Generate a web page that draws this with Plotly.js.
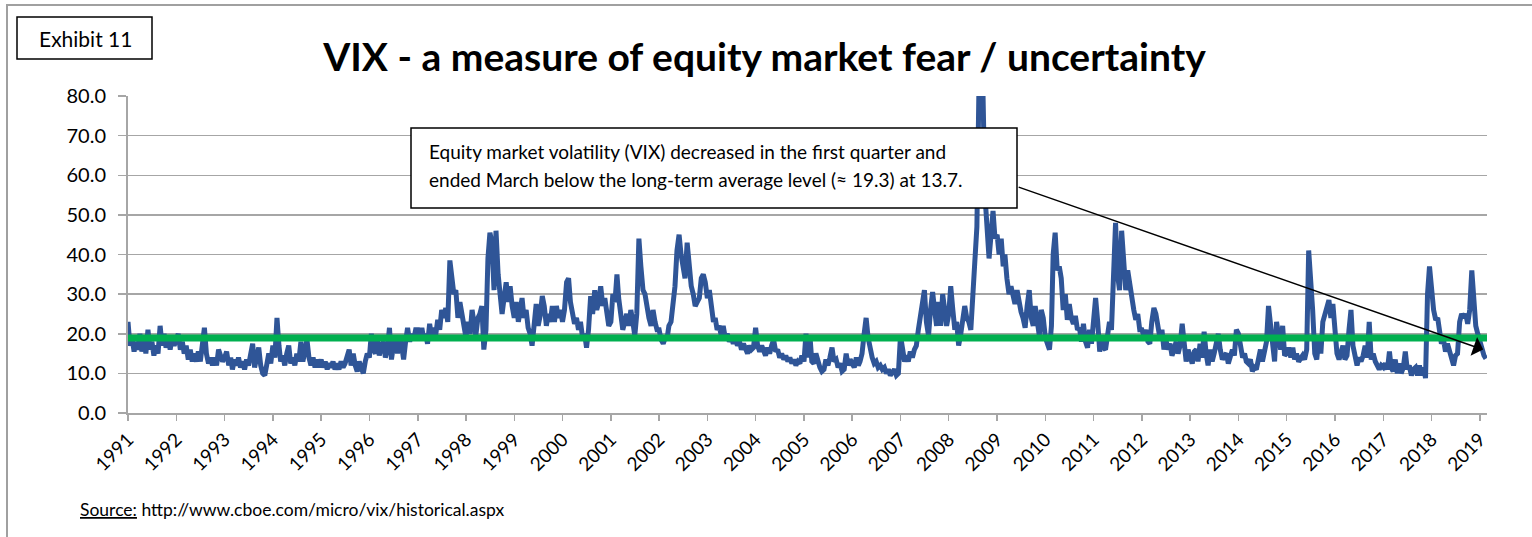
<!DOCTYPE html>
<html>
<head>
<meta charset="utf-8">
<script src="https://cdn.plot.ly/plotly-3.0.1.min.js"></script>
<style>
html,body{margin:0;padding:0;background:#fff;overflow:hidden;}
#chart{width:1532px;height:537px;}
</style>
</head>
<body>
<div id="chart"></div>
<script>
// ---- DATA (VIX, two readings per month) ----
const sampleDays = ['01-01','01-16','02-01','02-16','03-01','03-16','04-01','04-16','05-01','05-16','06-01','06-16',
                    '07-01','07-16','08-01','08-16','09-01','09-16','10-01','10-16','11-01','11-16','12-01','12-16'];
const years = [1991,1992,1993,1994,1995,1996,1997,1998,1999,2000,2001,2002,2003,2004,2005,2006,2007,2008,2009,2010,2011,2012,2013,2014,2015,2016,2017,2018,2019];
const yearLabels = ['1991','1992','1993','1994','1995','1996','1997','1998','1999','2000','2001','2002','2003','2004','2005','2006','2007','2008','2009','2010','2011','2012','2013','2014','2015','2016','2017','2018','2019'];

const v1991 = [23,17,19,15.5,18,16,20,15.5,19,15,21,16,18,14.5,17,15,22,17,20,16.5,19,16,19,17];
const v1992 = [18.5,20,16,18,15,17,13.5,16,13,15,13,15.5,13,17,21.5,15,12.5,14,12,14,12,16,14.5,13];
const v1993 = [14,15.5,12,14,11,13.5,12,14,11.5,13,11,13.5,12,15,17.5,11.5,14,16.5,12,10,9.5,12,15,12.5];
const v1994 = [17,14,24,17,13,14.5,12,15,17,12.5,14,12,15,13,18,13,16,18.5,14,12,14,11.5,13.5,11.5];
const v1995 = [13.5,11.5,13,11,12.5,11.5,13,11,12.5,11,13,11.5,12.5,14,16,12,15,12,10.5,13,11,10,13,15];
const v1996 = [14,20,16,15,19,14.5,17,18,14,16,21.5,13.5,17,19.5,15,19,17,13.5,18,21.5,18,20,18.5,21];
const v1997 = [21,19,21.5,18.5,20,17.5,22.5,19,21.5,19.5,23.5,21,26,24,26.5,23,38.5,35,30,31,24,28,25,21];
const v1998 = [19,23,20,26,22,19.5,24,25,27,16,21,39,45.5,43,31,46,35,28,25,29,33,28,32,27];
const v1999 = [24,28,23,26,29,24,26,21.5,20,17,23,27.5,22,24.5,29.5,27,22,25,23,27,23,27,24,26];
const v2000 = [23,26,33,34,28,25,22.5,24,21,23,19,20,16.5,21,29.5,25,31,26,28,32,27,29,24,22];
const v2001 = [23,30,28,35,29,24,21,23,25,22,26,23,19.5,25,44,37,31,30,26,24,22,26,23,21];
const v2002 = [21,18.5,17.5,19,18.5,22,23,27,32,41,45,40,37.5,34,43,37,32,30,27,28,29,34,35,33];
const v2003 = [29,31,27,23,24,21,22,19.5,22,19,20,18,19,17.5,19,17,18,16,17.5,16,15,17,16,16.5];
const v2004 = [21.5,17,15.5,17,16,14.5,16.5,15,17,18.5,15.5,16,14,15,13.5,14.5,13,14,12.5,13.5,12,13,12.5,14.5];
const v2005 = [13,20,14,19,13,12.5,15,13,11.5,10.5,11,13.5,12,14,16.5,13,13.5,11.5,12.5,10.5,11,15,12,13.5];
const v2006 = [12.5,11.5,14,12,13,15,20,24,19,15.5,14,12.5,13,11.5,12,11,11.5,10,11,9.5,10.5,11,9.5,10];
const v2007 = [19.5,15,13,14.5,13,15.5,14,16,17,21,24,28,31,23,19.5,26,30.5,26,22,28,22,30,26,22];
const v2008 = [25,32,26,21,23,17,20,23.5,27,24,23,21,28,38,47,80.9,74,80.9,55,48,39,45,51,44];
const v2009 = [45,40,44,37,40,34,30,32,29,27.5,31,28,25.5,24,21.5,27,31,24,22,27,23,19.5,26,24];
const v2010 = [19,17.5,16,22,40,45.5,36,37,34,26,30,23.5,27.5,24,22.5,24.5,21,21.5,18,22.5,18,16.5,21,17.5];
const v2011 = [25,29,23,15.5,19,16.5,16,21,23,21,40,48,35,31,46,40,31,36,32,30,26,23.5,25,21];
const v2012 = [21,19.5,21,18,17.5,23,26.5,25,21.5,19,21,16,18.5,16,17.5,14.5,16,18,15,17,22.5,17,13,16];
const v2013 = [14,12.5,15.5,16,13,17.5,14,20.5,15,12,16,13,15,18,20,16,13.5,14.5,15,12.5,14,16,14.5,21];
const v2014 = [20,16.5,14,15,13,12.5,13.5,10.5,11.5,11,14,16,13,15,18,27,22,15,13,23,20,16,22,14.5];
const v2015 = [15,16.5,14,16.5,13.5,15,13,14,14.5,13.5,16,41,35,26,15,13.5,19,15,23,25,27,28.5,24,27.5];
const v2016 = [21,15,13.5,15,17,13.5,14.5,21,26,17,14,12,14,13,14.5,17,14,23,13.5,15,13,12,11,12];
const v2017 = [11.5,12.5,11,15.5,11.5,10.5,13.5,10,12.5,10,11.5,15.5,11,12,9.5,11,11.5,9.5,12,9.5,11.5,8.8,30,37];
const v2018 = [30,26,23.5,24,21,17.5,18.5,15.5,17.5,16,14,12,14.5,15,23,25,24,25,22.5,26,36,30,22,20];
const v2019 = [18,15.5,14.5,13.7];

const longTermAvg = 18.9;
const avgSpan = ['1991-01-01','2019-02-24'];

const titleText = 'VIX - a measure of equity market fear / uncertainty';
const noteLine1 = 'Equity market volatility (VIX) decreased in the first quarter and';
const noteLine2 = 'ended March below the long-term average level (\u2248 19.3) at 13.7.';
const sourceText = '<u>Source:</u> http://www.cboe.com/micro/vix/historical.aspx';
const exhibitText = 'Exhibit 11';

// ---- BUILD ----
const yearSeries = [v1991,v1992,v1993,v1994,v1995,v1996,v1997,v1998,v1999,v2000,v2001,v2002,v2003,v2004,v2005,v2006,v2007,v2008,v2009,v2010,v2011,v2012,v2013,v2014,v2015,v2016,v2017,v2018,v2019];
const xs = [], ys = [];
years.forEach((yr, i) => {
  yearSeries[i].forEach((v, k) => { xs.push(yr + '-' + sampleDays[k]); ys.push(v); });
});

const W = 1532, H = 537;
const M = {l:128, r:45, t:96, b:124};
const PW = W - M.l - M.r, PH = H - M.t - M.b;
const px = x => (x - M.l) / PW;
const py = y => (H - M.b - y) / PH;

const FONT = 'Lato, "Open Sans", sans-serif';
const GRID = '#a6a6a6';

const traces = [
  {x: xs, y: ys, type: 'scatter', mode: 'lines', line: {color: '#2F5597', width: 5}, hoverinfo: 'skip', showlegend: false},
  {x: avgSpan, y: [longTermAvg, longTermAvg], type: 'scatter', mode: 'lines', line: {color: '#00B050', width: 7}, hoverinfo: 'skip', showlegend: false}
];

const layout = {
  width: W, height: H,
  margin: M,
  paper_bgcolor: '#fff', plot_bgcolor: '#fff',
  font: {family: FONT, color: '#000'},
  showlegend: false,
  title: {text: '<b>' + titleText + '</b>', font: {family: FONT, size: 39, color: '#000'},
          xref: 'container', yref: 'container', x: 0.499, y: 1 - 57/H, xanchor: 'center', yanchor: 'middle'},
  xaxis: {
    type: 'date', range: ['1991-01-01', '2019-02-24'],
    tickmode: 'array', tickvals: years.map(y => y + '-01-01'), ticktext: yearLabels,
    tickangle: -45, tickfont: {family: FONT, size: 19, color: '#000'},
    ticks: 'outside', ticklen: 6, tickwidth: 1.5, tickcolor: GRID,
    showline: true, linecolor: GRID, linewidth: 2, showgrid: false, zeroline: false, fixedrange: true
  },
  yaxis: {
    range: [0, 80], dtick: 10, tick0: 0, tickformat: '.1f',
    tickfont: {family: FONT, size: 20, color: '#000'},
    ticks: 'outside', ticklen: 8, tickwidth: 1.5, tickcolor: GRID, ticklabelstandoff: 8,
    showline: true, linecolor: GRID, linewidth: 2,
    showgrid: true, gridcolor: GRID, gridwidth: 1.5, zeroline: false, fixedrange: true
  },
  shapes: [
    {type: 'rect', xref: 'paper', yref: 'paper', x0: px(7), x1: px(1545), y0: py(5), y1: py(560),
     line: {color: '#a0a0a0', width: 2}, fillcolor: 'rgba(0,0,0,0)', layer: 'below'},
    {type: 'rect', xref: 'paper', yref: 'paper', x0: px(17), x1: px(152), y0: py(59), y1: py(17),
     line: {color: '#000', width: 1.5}, fillcolor: '#fff'},
    {type: 'rect', xref: 'paper', yref: 'paper', x0: px(411), x1: px(1017), y0: py(208), y1: py(128),
     line: {color: '#000', width: 1.5}, fillcolor: '#fff', layer: 'above'}
  ],
  annotations: [
    {xref: 'paper', yref: 'paper', x: px(85), y: py(38), text: exhibitText, showarrow: false,
     xanchor: 'center', yanchor: 'middle', font: {family: FONT, size: 21, color: '#000'}},
    {xref: 'paper', yref: 'paper', x: px(427), y: py(151), text: noteLine1, showarrow: false,
     xanchor: 'left', yanchor: 'middle', font: {family: FONT, size: 19, color: '#000'}},
    {xref: 'paper', yref: 'paper', x: px(427), y: py(179), text: noteLine2, showarrow: false,
     xanchor: 'left', yanchor: 'middle', font: {family: FONT, size: 19, color: '#000'}},
    {xref: 'x', yref: 'y', x: '2019-01-26', y: 16, text: '', showarrow: true,
     axref: 'pixel', ayref: 'pixel', ax: -466, ay: -163,
     arrowhead: 1, arrowsize: 2.2, arrowwidth: 1.5, arrowcolor: '#000', standoff: 0},
    {xref: 'paper', yref: 'paper', x: px(78), y: py(510), text: sourceText, showarrow: false,
     xanchor: 'left', yanchor: 'middle', font: {family: FONT, size: 17.5, color: '#000'}}
  ]
};

Plotly.newPlot('chart', traces, layout, {staticPlot: true, displayModeBar: false});
</script>
</body>
</html>
